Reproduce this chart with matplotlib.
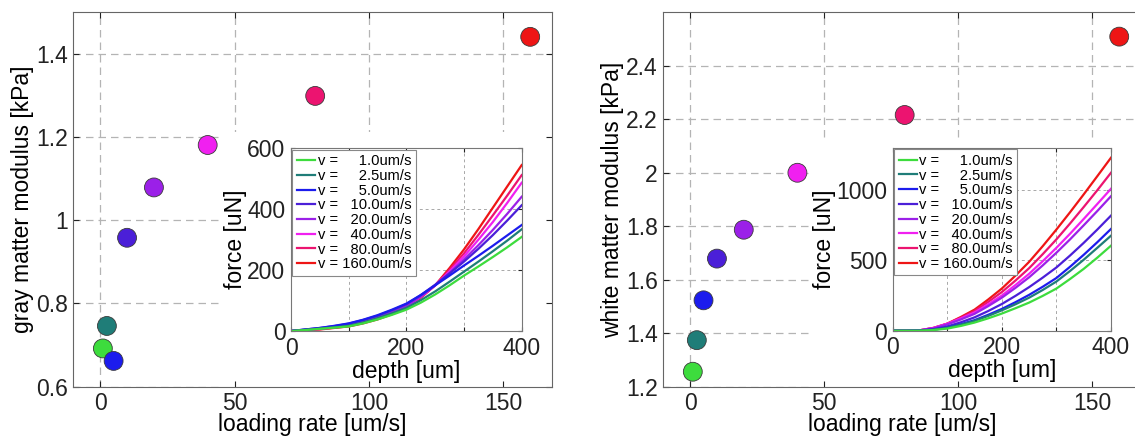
import matplotlib
matplotlib.use('Agg')
import matplotlib.pyplot as plt
from matplotlib.patches import Rectangle

plt.rcParams['font.family'] = ['Liberation Sans', 'DejaVu Sans']

# loading rates [um/s] and the colour used for each
rates = [1.0, 2.5, 5.0, 10.0, 20.0, 40.0, 80.0, 160.0]
colors = ['#3ddc3d', '#1f7d78', '#1c1ced', '#4b1fd8',
          '#9b20e8', '#f020f0', '#ec1470', '#ee1515']

# modulus [kPa] per loading rate
gray_mod = [0.692, 0.746, 0.662, 0.958, 1.079, 1.181, 1.299, 1.441]
white_mod = [1.256, 1.374, 1.523, 1.679, 1.787, 2.000, 2.216, 2.509]

# force [uN] vs depth [um] curves for the insets (one row per rate)
depth = [0, 25, 50, 75, 100, 125, 150, 175, 200, 225, 250, 275, 300, 325, 350, 375, 400]
gray_force = [
    [0, 3, 7, 11, 15, 25, 38, 53, 70, 93, 120, 150, 182, 212, 243, 275, 309],
    [0, 4, 8, 12, 17, 28, 42, 58, 76, 101, 130, 162, 195, 228, 262, 297, 334],
    [0, 5, 10, 17, 25, 37, 52, 70, 90, 118, 150, 182, 215, 247, 280, 314, 348],
    [0, 5, 10, 16, 24, 36, 50, 68, 88, 118, 152, 189, 228, 270, 315, 363, 413],
    [0, 4, 8, 14, 20, 31, 45, 62, 82, 113, 150, 191, 235, 282, 332, 385, 441],
    [0, 3, 7, 12, 18, 29, 42, 59, 80, 112, 150, 196, 245, 300, 358, 421, 487],
    [0, 3, 6, 11, 16, 27, 40, 57, 78, 111, 150, 201, 255, 316, 380, 445, 512],
    [0, 2, 5, 10, 15, 25, 38, 55, 75, 109, 150, 207, 268, 335, 405, 475, 545],
]
white_force = [
    [0, 0, 0, 5, 15, 34, 58, 88, 122, 160, 200, 248, 300, 368, 440, 520, 605],
    [0, 0, 0, 7, 20, 43, 70, 105, 145, 188, 235, 290, 350, 425, 505, 590, 676],
    [0, 0, 1, 8, 22, 46, 75, 113, 155, 203, 255, 313, 375, 455, 540, 630, 724],
    [0, 0, 2, 11, 30, 60, 95, 140, 190, 248, 310, 378, 450, 535, 625, 720, 819],
    [0, 1, 3, 17, 45, 80, 120, 175, 235, 305, 380, 465, 555, 650, 750, 852, 957],
    [0, 1, 3, 20, 50, 88, 130, 188, 250, 325, 405, 495, 590, 690, 795, 902, 1010],
    [0, 1, 3, 20, 50, 93, 140, 205, 275, 357, 445, 545, 650, 763, 880, 1000, 1124],
    [0, 1, 3, 20, 50, 98, 150, 222, 300, 392, 490, 602, 720, 843, 970, 1100, 1231],
]

xticks_main = [0, 50, 100, 150]
gray_yticks = [0.6, 0.8, 1, 1.2, 1.4]
white_yticks = [1.2, 1.4, 1.6, 1.8, 2, 2.2, 2.4]
depth_ticks = [0, 100, 200, 300, 400]
depth_labels = ['0', '', '200', '', '400']

W, H = 1135, 442
fig = plt.figure(figsize=(W / 100, H / 100), dpi=100)


def px(l, t, r, b):
    return [l / W, 1 - b / H, (r - l) / W, (b - t) / H]


def vlabel(v):
    s = '%.1f' % v
    return 'v = ' + '  ' * (5 - len(s)) + s + 'um/s'


def panel(main_pos, ins_pos, mod, yticks, ylim, ylabel, white_x, white_h,
          force, ins_yticks, ins_ylim):
    ax = fig.add_axes(main_pos)
    ax.set_xlim(-10, 168)
    ax.set_ylim(*ylim)
    ax.set_xticks(xticks_main)
    ax.set_yticks(yticks)
    ax.set_yticklabels(['%g' % t for t in yticks])
    # dashed grid, drawn by hand so the white box can hide part of it
    for x in xticks_main:
        ax.axvline(x, color='#b4b4b4', lw=0.9, ls=(0, (6, 4)), zorder=0.5)
    for y in yticks:
        ax.axhline(y, color='#b4b4b4', lw=0.9, ls=(0, (6, 4)), zorder=0.5)
    ax.add_patch(Rectangle((white_x, 0), 1.2, white_h, transform=ax.transAxes,
                           facecolor='white', edgecolor='none', zorder=1))
    ax.scatter(rates, mod, s=185, c=colors, edgecolors='#3a3a3a',
               linewidths=0.6, zorder=3, clip_on=False)
    ax.tick_params(direction='in', length=4, top=True, right=True,
                   labelsize=16.5, colors='#222222', pad=4)
    for s in ax.spines.values():
        s.set_color('#666666')
    ax.set_xlabel('loading rate [um/s]', fontsize=16.5, labelpad=-1.5)
    ax.set_ylabel(ylabel, fontsize=16.5, labelpad=1)

    # inset with the force-depth curves
    ins = fig.add_axes(ins_pos, zorder=5)
    ins.set_facecolor('white')
    handles = []
    for i in reversed(range(len(rates))):
        ln, = ins.plot(depth, force[i], color=colors[i], lw=1.6,
                       label=vlabel(rates[i]))
        handles.insert(0, ln)
    ins.set_xlim(0, 400)
    ins.set_ylim(*ins_ylim)
    ins.set_xticks(depth_ticks)
    ins.set_xticklabels(depth_labels)
    ins.set_yticks(ins_yticks)
    ins.grid(True, color='#a8a8a8', lw=0.7, ls=(0, (3, 3)))
    ins.tick_params(direction='in', length=3, top=True, right=True,
                    labelsize=16.5, colors='#222222', pad=4)
    for s in ins.spines.values():
        s.set_color('#777777')
    ins.set_xlabel('depth [um]', fontsize=16.5, labelpad=0)
    ins.set_ylabel('force [uN]', fontsize=16.5, labelpad=0)
    leg = ins.legend(handles=handles, loc='upper left', fontsize=10.6,
                     fancybox=False, edgecolor='#888888', framealpha=1,
                     handlelength=1.25, handletextpad=0.15, labelspacing=0.05,
                     borderpad=0.3, borderaxespad=0.1)
    leg.get_frame().set_linewidth(0.8)
    return ax, ins


panel(px(73.3, 12.3, 551.7, 386.7), px(291, 148.3, 521.7, 331),
      gray_mod, gray_yticks, (0.6, 1.5), 'gray matter modulus [kPa]',
      0.311, 0.680, gray_force, [0, 200, 400, 600], (0, 600))

panel(px(663.3, 12.3, 1140.7, 386.7), px(892.7, 148, 1111, 330.7),
      white_mod, white_yticks, (1.2, 2.6), 'white matter modulus [kPa]',
      0.3136, 0.664, white_force, [0, 500, 1000], (0, 1300))

fig.savefig('out.png', dpi=100, facecolor='white')
